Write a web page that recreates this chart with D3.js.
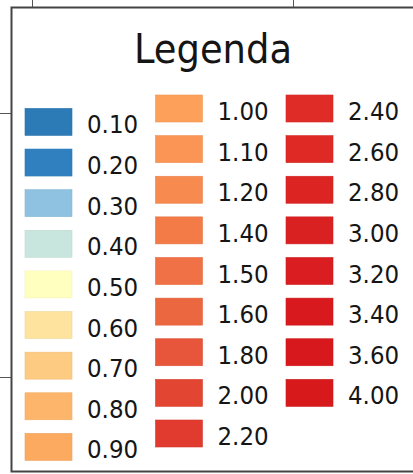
<!DOCTYPE html>
<html>
<head>
<meta charset="utf-8">
<script src="https://cdn.jsdelivr.net/npm/d3@7"></script>
<style>
  html, body { margin: 0; padding: 0; background: #fff; overflow: hidden; }
  svg { display: block; }
  svg text { font-family: "DejaVu Sans Condensed", "DejaVu Sans", sans-serif; font-stretch: condensed; fill: #151515; }
</style>
</head>
<body>
<div id="chart"></div>
<script>
// Legend classes (break values) and their fill colours
const title = "Legenda";
const labels = [
  "0.10", "0.20", "0.30", "0.40", "0.50", "0.60", "0.70", "0.80", "0.90",
  "1.00", "1.10", "1.20", "1.40", "1.50", "1.60", "1.80", "2.00", "2.20",
  "2.40", "2.60", "2.80", "3.00", "3.20", "3.40", "3.60", "4.00"
];
const colors = [
  "#2c7bb6", "#3080c0", "#8fc2e1", "#c8e6dd", "#ffffc0", "#fee39f", "#fdcb82", "#fdb56b", "#fcaa60",
  "#fca05a", "#fa9555", "#f78a4f", "#f27b48", "#ef7145", "#eb6740", "#e7553a", "#e34533", "#e03b2e",
  "#e02c27", "#de2925", "#dc2523", "#da2121", "#d91d20", "#d8191e", "#d7181d", "#d7191c"
];
// how many entries go in each column
const columnSizes = [9, 9, 8];

const W = 413, H = 474;

const svg = d3.select("#chart")
    .append("svg")
    .attr("width", W)
    .attr("height", H);

svg.append("rect").attr("width", W).attr("height", H).attr("fill", "#fff");

// map grid lines peeking out behind the legend frame
const grid = svg.append("g").attr("stroke", "#555").attr("stroke-width", 1);
grid.append("line").attr("x1", 32.5).attr("x2", 32.5).attr("y1", 0).attr("y2", 8);
grid.append("line").attr("x1", 293.5).attr("x2", 293.5).attr("y1", 0).attr("y2", 8);
grid.append("line").attr("x1", 0).attr("x2", 11).attr("y1", 113.5).attr("y2", 113.5);
grid.append("line").attr("x1", 0).attr("x2", 11).attr("y1", 377.5).attr("y2", 377.5);

// legend frame: top, left and bottom only (right side runs off the picture)
svg.append("path")
    .attr("d", `M${W + 5},7.5 H11.5 V471.5 H${W + 5}`)
    .attr("fill", "none")
    .attr("stroke", "#444")
    .attr("stroke-width", 2);

svg.append("text")
    .attr("x", 213)
    .attr("y", 63)
    .attr("text-anchor", "middle")
    .style("font-size", "41px")
    .text(title);

// assign each class to a column / row
const items = [];
let k = 0;
columnSizes.forEach((n, c) => {
    for (let r = 0; r < n; r++) {
        items.push({ label: labels[k], color: colors[k], col: c, row: r });
        k++;
    }
});

const color = d3.scaleOrdinal(labels, colors);

// column x positions
const x = d3.scaleLinear().domain([0, 2]).range([25, 286]);
// row y positions (first column sits a third of a row lower)
const y = d3.scaleLinear().domain([0, 8]).range([95, 420]);
const rowY = d => y(d.row + (d.col === 0 ? 0.33 : 0));

const entry = svg.selectAll(".entry")
    .data(items)
    .enter()
    .append("g")
    .attr("class", "entry")
    .attr("transform", d => `translate(${x(d.col)},${rowY(d)})`);

entry.append("rect")
    .attr("width", 47)
    .attr("height", 27)
    .attr("fill", d => color(d.label))
    .attr("stroke", d => d3.color(color(d.label)).darker(0.15))
    .attr("stroke-width", 0.6);

entry.append("text")
    .attr("x", 62)
    .attr("y", 25)
    .style("font-size", "25.5px")
    .text(d => d.label);
</script>
</body>
</html>
